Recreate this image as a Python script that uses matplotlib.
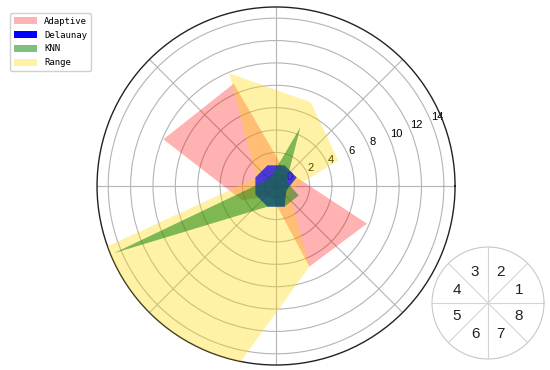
import numpy as np
import matplotlib
matplotlib.use("Agg")
import matplotlib.pyplot as plt
import matplotlib.patches as mpatches

# sector numbers and values (sector k sits at 22.5 + 45*(k-1) degrees)
sectors = [1, 2, 3, 4, 5, 6, 7, 8]
adaptive = [1.0, 0.7, 8.9, 9.9, 2.3, 0.0, 6.8, 7.8]
delaunay = [1.0, 1.0, 1.0, 1.0, 1.0, 1.0, 1.0, 0.0]
knn = [0.0, 4.7, 0.0, 0.1, 14.7, 1.0, 1.0, 1.2]
range_ = [5.0, 7.1, 9.9, 0.9, 35.0, 27.6, 6.8, 0.2]
r_ticks = [0, 2, 4, 6, 8, 10, 12, 14]

theta = np.deg2rad([22.5 + 45 * (k - 1) for k in sectors])
theta_c = np.append(theta, theta[0])


def closed(v):
    return np.append(v, v[0])


fig = plt.figure(figsize=(5.5, 3.7), dpi=100)
ax = fig.add_axes([0.1764, 0.0135, 0.651, 0.9676], projection="polar")

ax.fill(theta_c, closed(adaptive), color="red", alpha=0.3, lw=0, zorder=2)
ax.fill(theta_c, closed(range_), color="gold", alpha=0.35, lw=0, zorder=3)
ax.fill(theta_c, closed(delaunay), color="blue", alpha=0.7, lw=0, zorder=4)
ax.fill(theta_c, closed(knn), color="green", alpha=0.5, lw=0, zorder=5)

ax.set_ylim(-1, 15)
ax.set_yticks(r_ticks)
ax.set_yticklabels([str(t) for t in r_ticks], fontsize=8, family="Liberation Sans")
ax.set_xticks(np.deg2rad(np.arange(0, 360, 45)))
ax.set_xticklabels([])
ax.grid(True, color="#b4b4b4", lw=0.8)
ax.spines["polar"].set_color("#222222")
ax.spines["polar"].set_linewidth(1.0)

handles = [
    mpatches.Patch(color="red", alpha=0.3, lw=0, label="Adaptive"),
    mpatches.Patch(color="blue", alpha=1.0, lw=0, label="Delaunay"),
    mpatches.Patch(color="green", alpha=0.5, lw=0, label="KNN"),
    mpatches.Patch(color="gold", alpha=0.35, lw=0, label="Range"),
]
fig.legend(handles=handles, loc="upper left", bbox_to_anchor=(0.018, 0.965),
           borderaxespad=0, prop={"family": "DejaVu Sans Mono", "size": 6.5},
           handlelength=2.6, handleheight=0.9, labelspacing=0.55,
           framealpha=1, edgecolor="#d0d0d0")

# small key showing sector numbering
ax2 = fig.add_axes([0.7855, 0.0297, 0.2036, 0.3027], projection="polar")
ax2.set_ylim(0, 1)
ax2.set_yticks([])
ax2.set_xticks(np.deg2rad(np.arange(0, 360, 45)))
ax2.set_xticklabels([])
ax2.grid(True, color="#d4d4d4", lw=0.8)
ax2.spines["polar"].set_color("#c8c8c8")
ax2.spines["polar"].set_linewidth(0.8)
for k, t in zip(sectors, theta):
    ax2.text(t, 0.6, str(k), ha="center", va="center", fontsize=11,
             family="Liberation Sans", color="#222222")

plt.savefig("out.png", dpi=100)
